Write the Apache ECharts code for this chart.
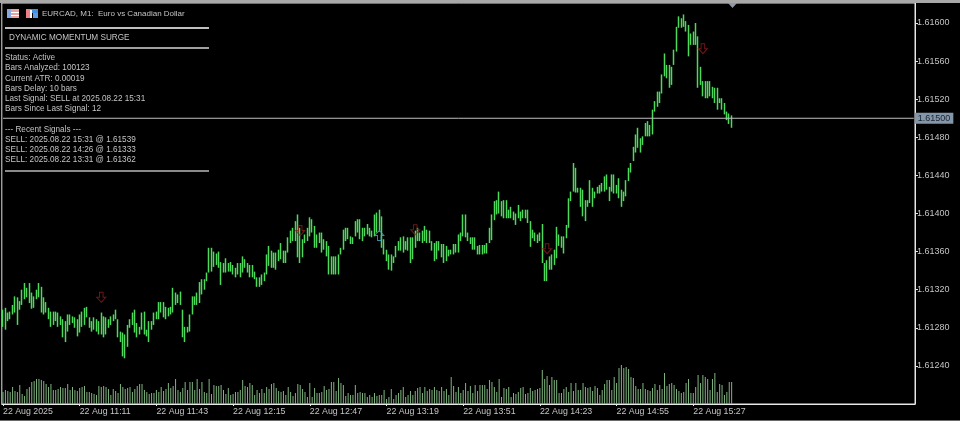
<!DOCTYPE html>
<html>
<head>
<meta charset="utf-8">
<title>EURCAD, M1</title>
<script src="https://cdn.jsdelivr.net/npm/echarts@6/dist/echarts.min.js"></script>
<style>
html, body { margin: 0; padding: 0; background: #000; }
#chart { width: 960px; height: 421px; }
</style>
</head>
<body>
<div id="chart"></div>
<script>
// one minute bars
var opens = [
1.61285,1.61290,1.61287,1.61292,1.61295,1.61300,1.61305,1.61301,1.61304,1.61315,
1.61320,1.61316,1.61317,1.61305,1.61310,1.61316,1.61322,1.61305,1.61300,1.61301,
1.61295,1.61288,1.61292,1.61291,1.61288,1.61287,1.61277,1.61285,1.61290,1.61288,
1.61289,1.61285,1.61280,1.61290,1.61295,1.61298,1.61291,1.61285,1.61282,1.61285,
1.61280,1.61280,1.61287,1.61278,1.61284,1.61285,1.61288,1.61291,1.61289,1.61276,
1.61270,1.61258,1.61270,1.61280,1.61285,1.61292,1.61282,1.61277,1.61278,1.61290,
1.61278,1.61275,1.61282,1.61283,1.61292,1.61295,1.61303,1.61300,1.61300,1.61294,
1.61298,1.61298,1.61312,1.61310,1.61310,1.61299,1.61278,1.61275,1.61278,1.61294,
1.61305,1.61308,1.61310,1.61322,1.61325,1.61329,1.61338,1.61355,1.61352,1.61350,
1.61352,1.61348,1.61342,1.61342,1.61345,1.61344,1.61343,1.61340,1.61338,1.61343,
1.61338,1.61348,1.61346,1.61342,1.61338,1.61338,1.61333,1.61328,1.61329,1.61332,
1.61336,1.61348,1.61352,1.61350,1.61348,1.61352,1.61355,1.61358,1.61353,1.61359,
1.61369,1.61376,1.61380,1.61382,1.61370,1.61360,1.61369,1.61373,1.61380,1.61386,
1.61386,1.61372,1.61370,1.61375,1.61368,1.61366,1.61362,1.61345,1.61342,1.61345,
1.61350,1.61357,1.61362,1.61375,1.61378,1.61376,1.61372,1.61376,1.61385,1.61388,
1.61380,1.61378,1.61382,1.61384,1.61380,1.61378,1.61392,1.61392,1.61395,1.61370,
1.61362,1.61355,1.61348,1.61352,1.61354,1.61361,1.61366,1.61368,1.61368,1.61366,
1.61368,1.61360,1.61365,1.61372,1.61378,1.61376,1.61378,1.61380,1.61376,1.61371,
1.61366,1.61358,1.61365,1.61366,1.61360,1.61356,1.61360,1.61358,1.61360,1.61364,
1.61365,1.61373,1.61376,1.61390,1.61380,1.61375,1.61372,1.61368,1.61366,1.61360,
1.61362,1.61362,1.61365,1.61369,1.61380,1.61393,1.61405,1.61405,1.61410,1.61403,
1.61405,1.61400,1.61400,1.61400,1.61398,1.61395,1.61402,1.61397,1.61400,1.61400,
1.61392,1.61378,1.61378,1.61375,1.61373,1.61375,1.61348,1.61336,1.61345,1.61350,
1.61352,1.61358,1.61370,1.61372,1.61370,1.61374,1.61385,1.61413,1.61423,1.61440,
1.61426,1.61424,1.61415,1.61410,1.61410,1.61411,1.61425,1.61420,1.61421,1.61425,
1.61426,1.61428,1.61434,1.61428,1.61423,1.61435,1.61430,1.61426,1.61425,1.61413,
1.61420,1.61434,1.61445,1.61455,1.61465,1.61475,1.61478,1.61472,1.61481,1.61490,
1.61485,1.61490,1.61507,1.61515,1.61525,1.61526,1.61544,1.61555,1.61548,1.61540,
1.61556,1.61570,1.61595,1.61602,1.61600,1.61602,1.61595,1.61577,1.61585,1.61586,
1.61580,1.61538,1.61538,1.61530,1.61528,1.61530,1.61528,1.61525,1.61522,1.61516,
1.61518,1.61512,1.61506,1.61502,1.61497
];
var highs = [
1.61299,1.61301,1.61296,1.61297,1.61304,1.61313,1.61312,1.61308,1.61320,1.61327,
1.61322,1.61327,1.61317,1.61313,1.61320,1.61327,1.61323,1.61312,1.61307,1.61301,
1.61297,1.61297,1.61297,1.61296,1.61292,1.61289,1.61287,1.61294,1.61294,1.61292,
1.61291,1.61289,1.61294,1.61297,1.61301,1.61302,1.61291,1.61287,1.61291,1.61289,
1.61287,1.61296,1.61292,1.61291,1.61289,1.61292,1.61294,1.61299,1.61289,1.61276,
1.61275,1.61273,1.61283,1.61289,1.61296,1.61299,1.61285,1.61281,1.61296,1.61297,
1.61278,1.61287,1.61287,1.61296,1.61297,1.61307,1.61307,1.61307,1.61302,1.61301,
1.61302,1.61322,1.61317,1.61315,1.61318,1.61299,1.61281,1.61281,1.61294,1.61313,
1.61313,1.61317,1.61328,1.61331,1.61331,1.61338,1.61364,1.61364,1.61360,1.61358,
1.61360,1.61349,1.61348,1.61353,1.61348,1.61349,1.61346,1.61343,1.61348,1.61348,
1.61355,1.61352,1.61348,1.61346,1.61346,1.61339,1.61333,1.61333,1.61336,1.61338,
1.61357,1.61366,1.61361,1.61359,1.61359,1.61362,1.61369,1.61361,1.61361,1.61375,
1.61382,1.61385,1.61392,1.61399,1.61385,1.61373,1.61378,1.61385,1.61396,1.61394,
1.61387,1.61378,1.61380,1.61380,1.61373,1.61371,1.61366,1.61355,1.61355,1.61355,
1.61357,1.61364,1.61383,1.61385,1.61385,1.61376,1.61375,1.61392,1.61394,1.61394,
1.61385,1.61385,1.61389,1.61385,1.61382,1.61399,1.61401,1.61404,1.61397,1.61373,
1.61362,1.61357,1.61357,1.61355,1.61366,1.61371,1.61375,1.61376,1.61371,1.61375,
1.61375,1.61375,1.61382,1.61385,1.61380,1.61382,1.61387,1.61383,1.61382,1.61371,
1.61369,1.61371,1.61371,1.61368,1.61368,1.61366,1.61362,1.61362,1.61368,1.61368,
1.61378,1.61380,1.61399,1.61399,1.61380,1.61375,1.61375,1.61375,1.61366,1.61367,
1.61367,1.61367,1.61369,1.61385,1.61399,1.61413,1.61414,1.61423,1.61413,1.61414,
1.61414,1.61404,1.61407,1.61402,1.61400,1.61409,1.61402,1.61404,1.61404,1.61404,
1.61392,1.61383,1.61380,1.61378,1.61380,1.61389,1.61348,1.61351,1.61355,1.61357,
1.61362,1.61386,1.61378,1.61376,1.61376,1.61388,1.61416,1.61423,1.61453,1.61448,
1.61427,1.61427,1.61425,1.61414,1.61414,1.61435,1.61427,1.61423,1.61428,1.61430,
1.61432,1.61439,1.61441,1.61428,1.61441,1.61441,1.61430,1.61437,1.61425,1.61423,
1.61435,1.61448,1.61453,1.61470,1.61483,1.61490,1.61479,1.61481,1.61495,1.61497,
1.61493,1.61509,1.61518,1.61528,1.61528,1.61546,1.61568,1.61556,1.61556,1.61554,
1.61572,1.61596,1.61607,1.61605,1.61609,1.61602,1.61598,1.61589,1.61591,1.61600,
1.61586,1.61554,1.61539,1.61539,1.61539,1.61539,1.61533,1.61532,1.61532,1.61521,
1.61521,1.61516,1.61507,1.61505,1.61503
];
var lows = [
1.61281,1.61278,1.61287,1.61289,1.61294,1.61296,1.61283,1.61299,1.61304,1.61310,
1.61312,1.61306,1.61300,1.61301,1.61310,1.61312,1.61296,1.61294,1.61296,1.61289,
1.61281,1.61283,1.61287,1.61281,1.61283,1.61270,1.61265,1.61276,1.61283,1.61285,
1.61280,1.61271,1.61275,1.61281,1.61283,1.61291,1.61280,1.61276,1.61278,1.61276,
1.61273,1.61273,1.61270,1.61273,1.61280,1.61283,1.61287,1.61289,1.61270,1.61265,
1.61250,1.61248,1.61260,1.61280,1.61283,1.61275,1.61270,1.61273,1.61278,1.61273,
1.61271,1.61265,1.61278,1.61283,1.61289,1.61289,1.61296,1.61291,1.61289,1.61292,
1.61294,1.61296,1.61304,1.61306,1.61304,1.61270,1.61265,1.61275,1.61276,1.61294,
1.61304,1.61304,1.61306,1.61315,1.61320,1.61329,1.61338,1.61339,1.61344,1.61346,
1.61343,1.61325,1.61338,1.61338,1.61339,1.61339,1.61336,1.61333,1.61336,1.61333,
1.61338,1.61343,1.61338,1.61333,1.61333,1.61331,1.61323,1.61323,1.61325,1.61329,
1.61336,1.61345,1.61343,1.61343,1.61341,1.61350,1.61352,1.61348,1.61348,1.61359,
1.61369,1.61371,1.61371,1.61354,1.61348,1.61354,1.61369,1.61371,1.61376,1.61380,
1.61364,1.61364,1.61369,1.61359,1.61362,1.61355,1.61336,1.61336,1.61336,1.61336,
1.61336,1.61357,1.61362,1.61371,1.61373,1.61368,1.61368,1.61376,1.61380,1.61373,
1.61371,1.61376,1.61378,1.61376,1.61375,1.61376,1.61380,1.61382,1.61364,1.61357,
1.61350,1.61341,1.61340,1.61348,1.61354,1.61361,1.61361,1.61359,1.61362,1.61361,
1.61348,1.61352,1.61364,1.61371,1.61371,1.61369,1.61371,1.61369,1.61369,1.61361,
1.61350,1.61352,1.61361,1.61354,1.61348,1.61350,1.61355,1.61357,1.61357,1.61359,
1.61359,1.61371,1.61376,1.61375,1.61371,1.61368,1.61362,1.61362,1.61357,1.61357,
1.61357,1.61358,1.61358,1.61369,1.61372,1.61393,1.61399,1.61400,1.61397,1.61395,
1.61395,1.61395,1.61395,1.61393,1.61388,1.61395,1.61392,1.61395,1.61395,1.61390,
1.61365,1.61374,1.61371,1.61369,1.61371,1.61348,1.61329,1.61329,1.61341,1.61341,
1.61346,1.61353,1.61366,1.61364,1.61358,1.61374,1.61385,1.61413,1.61423,1.61422,
1.61422,1.61407,1.61397,1.61392,1.61407,1.61411,1.61407,1.61416,1.61421,1.61421,
1.61423,1.61423,1.61425,1.61413,1.61423,1.61421,1.61421,1.61416,1.61407,1.61413,
1.61418,1.61434,1.61443,1.61455,1.61464,1.61469,1.61464,1.61472,1.61481,1.61481,
1.61481,1.61483,1.61507,1.61512,1.61516,1.61526,1.61544,1.61542,1.61532,1.61535,
1.61556,1.61570,1.61595,1.61595,1.61596,1.61591,1.61565,1.61577,1.61577,1.61577,
1.61532,1.61535,1.61523,1.61521,1.61521,1.61523,1.61521,1.61516,1.61509,1.61516,
1.61509,1.61504,1.61498,1.61494,1.61490
];
var closes = [
1.61290,1.61285,1.61292,1.61295,1.61300,1.61305,1.61301,1.61303,1.61315,1.61320,
1.61316,1.61320,1.61305,1.61308,1.61316,1.61322,1.61305,1.61300,1.61302,1.61295,
1.61288,1.61292,1.61291,1.61288,1.61287,1.61277,1.61285,1.61290,1.61288,1.61289,
1.61285,1.61280,1.61290,1.61295,1.61298,1.61296,1.61285,1.61282,1.61285,1.61280,
1.61280,1.61287,1.61278,1.61284,1.61285,1.61288,1.61291,1.61295,1.61278,1.61270,
1.61258,1.61270,1.61278,1.61285,1.61292,1.61282,1.61277,1.61278,1.61290,1.61280,
1.61275,1.61282,1.61283,1.61292,1.61295,1.61303,1.61300,1.61300,1.61294,1.61298,
1.61298,1.61312,1.61310,1.61310,1.61310,1.61278,1.61272,1.61278,1.61290,1.61305,
1.61308,1.61310,1.61322,1.61325,1.61326,1.61335,1.61355,1.61352,1.61350,1.61352,
1.61348,1.61342,1.61342,1.61345,1.61344,1.61343,1.61340,1.61338,1.61343,1.61338,
1.61348,1.61346,1.61342,1.61338,1.61338,1.61335,1.61328,1.61329,1.61332,1.61335,
1.61348,1.61352,1.61350,1.61348,1.61352,1.61355,1.61358,1.61353,1.61356,1.61368,
1.61376,1.61380,1.61382,1.61370,1.61360,1.61362,1.61373,1.61380,1.61386,1.61386,
1.61372,1.61370,1.61375,1.61368,1.61366,1.61362,1.61345,1.61342,1.61345,1.61350,
1.61350,1.61360,1.61375,1.61378,1.61378,1.61372,1.61372,1.61385,1.61388,1.61380,
1.61378,1.61382,1.61384,1.61380,1.61378,1.61392,1.61392,1.61395,1.61370,1.61362,
1.61355,1.61348,1.61352,1.61351,1.61360,1.61366,1.61368,1.61368,1.61366,1.61368,
1.61360,1.61365,1.61372,1.61378,1.61376,1.61378,1.61380,1.61376,1.61374,1.61366,
1.61358,1.61365,1.61366,1.61360,1.61356,1.61360,1.61358,1.61360,1.61364,1.61365,
1.61373,1.61376,1.61390,1.61380,1.61375,1.61372,1.61368,1.61366,1.61360,1.61362,
1.61362,1.61365,1.61364,1.61380,1.61392,1.61405,1.61405,1.61410,1.61403,1.61405,
1.61400,1.61400,1.61400,1.61398,1.61395,1.61402,1.61397,1.61400,1.61400,1.61395,
1.61378,1.61378,1.61375,1.61373,1.61375,1.61352,1.61336,1.61345,1.61350,1.61352,
1.61358,1.61370,1.61372,1.61370,1.61372,1.61384,1.61410,1.61420,1.61440,1.61426,
1.61424,1.61415,1.61410,1.61410,1.61411,1.61425,1.61420,1.61420,1.61425,1.61426,
1.61428,1.61434,1.61430,1.61420,1.61435,1.61430,1.61426,1.61425,1.61412,1.61420,
1.61430,1.61445,1.61450,1.61465,1.61475,1.61478,1.61470,1.61478,1.61490,1.61485,
1.61490,1.61505,1.61515,1.61525,1.61522,1.61540,1.61555,1.61548,1.61540,1.61550,
1.61570,1.61592,1.61602,1.61600,1.61603,1.61595,1.61575,1.61585,1.61586,1.61580,
1.61538,1.61538,1.61530,1.61528,1.61530,1.61528,1.61525,1.61522,1.61515,1.61518,
1.61512,1.61506,1.61502,1.61497,1.61500
];
var volumes = [
12,14,13,12,17,13,12,19,10,8,
15,17,22,23,25,25,24,23,20,17,
20,14,14,15,17,16,16,20,14,17,
14,13,16,17,18,12,12,11,10,9,
18,17,18,17,15,9,15,13,11,20,
17,15,16,17,12,15,18,20,20,14,
12,10,11,11,14,12,17,13,15,21,
16,18,25,14,12,16,22,14,22,22,
14,25,15,22,12,11,25,10,19,18,
18,19,14,10,16,9,10,12,12,
14,24,18,17,21,19,9,14,11,15,
11,17,15,20,21,16,13,12,13,9,
17,12,8,11,20,19,15,12,7,21,
7,16,11,11,12,18,14,15,22,22,
13,26,21,19,8,11,9,9,19,11,
12,11,11,7,9,7,11,8,9,9,
14,5,7,15,5,9,11,14,17,7,
9,13,9,13,16,17,11,17,13,15,
14,17,14,13,17,13,15,9,27,18,
12,17,11,14,21,13,18,11,19,13,
19,19,19,15,24,22,17,12,25,7,
16,15,17,7,11,10,12,16,17,10,
11,16,13,14,15,16,34,25,28,19,
27,24,24,11,11,15,17,12,21,13,
21,14,14,21,17,16,17,13,18,16,
9,14,20,
24,24,14,27,21,36,39,36,37,35,
27,26,18,15,15,21,15,14,13,16,
20,14,19,15,31,18,20,21,19,15,
13,11,12,21,25,11,11,17,29,21,
29,27,25,14,25,31,12,20,19,9,
12,22,22
];

var xTickLabels = ['22 Aug 2025', '22 Aug 11:11', '22 Aug 11:43', '22 Aug 12:15', '22 Aug 12:47', '22 Aug 13:19', '22 Aug 13:51', '22 Aug 14:23', '22 Aug 14:55', '22 Aug 15:27'];
var currentPrice = 1.615;

// signal arrows: [bar index, price]
var sellSignals = [[41, 1.61312], [124, 1.61382], [172, 1.61383], [227, 1.61363], [292, 1.61573]];
var buySignals = [[157, 1.61377]];

var panelTitle = 'DYNAMIC MOMENTUM SURGE';
var chartTitle = 'EURCAD, M1:  Euro vs Canadian Dollar';
var panelLines = [
	'Status: Active',
	'Bars Analyzed: 100123',
	'Current ATR: 0.00019',
	'Bars Delay: 10 bars',
	'Last Signal: SELL at 2025.08.22 15:31',
	'Bars Since Last Signal: 12'
];
var recentLines = [
	'--- Recent Signals ---',
	'SELL: 2025.08.22 15:31 @ 1.61539',
	'SELL: 2025.08.22 14:26 @ 1.61333',
	'SELL: 2025.08.22 13:31 @ 1.61362'
];

// chart has room for 381 one minute bars, only 305 are filled
var categories = [];
for (var i = 0; i < 381; i++) {
	categories.push(String(i));
}

var candleData = [];
for (var i = 0; i < closes.length; i++) {
	candleData.push([opens[i], closes[i], lows[i], highs[i]]);
}

var textFont = '"Liberation Sans", sans-serif';
var graphics = [];

function addText(str, x, y, size) {
	graphics.push({
		type: 'text', left: x, top: y - 4, z: 20,
		style: { text: str, fill: '#c4c4c4', font: size + 'px ' + textFont }
	});
}
function addRect(x, y, w, h, color) {
	graphics.push({
		type: 'rect', z: 19, silent: true,
		shape: { x: x, y: y, width: w, height: h },
		style: { fill: color }
	});
}

// window edges
addRect(0, 0, 960, 3, '#a8a8a8');
addRect(0, 420, 960, 1, '#6a6a6a');

// symbol icons
addRect(7, 9, 12, 9, '#e8a0a0');
addRect(7, 12, 12, 1, '#ffffff');
addRect(7, 15, 12, 1, '#ffffff');
addRect(7, 9, 4, 9, '#8aa8e0');
addRect(26, 9, 5, 9, '#f08080');
addRect(31, 9, 7, 4, '#4a90d8');
addRect(33, 13, 5, 5, '#5aa0e0');
addRect(30, 10, 2, 8, '#ffffff');

addText(chartTitle, 42, 14, 8);
addRect(5, 27, 204, 2, '#c0c0c0');
addText(panelTitle, 9, 38, 8.2);
addRect(5, 47, 204, 2, '#a0a0a0');
for (var i = 0; i < panelLines.length; i++) {
	addText(panelLines[i], 5, 58 + i * 10.2, 8.2);
}
for (var i = 0; i < recentLines.length; i++) {
	addText(recentLines[i], 5, 130 + i * 10, 8.2);
}
addRect(5, 170, 204, 2, '#8a8a8a');

// last bar marker on top edge
graphics.push({
	type: 'polygon', z: 20, silent: true,
	shape: { points: [[728, 3], [737, 3], [732.5, 8]] },
	style: { fill: '#8f99a6' }
});

var downArrow = 'path://M3,0 L7,0 L7,5 L10,5 L5,10 L0,5 L3,5 Z';
var upArrow = 'path://M5,0 L10,5 L7,5 L7,10 L3,10 L3,5 L0,5 Z';

var option = {
	backgroundColor: '#000',
	animation: false,
	graphic: graphics,
	grid: {
		left: 1, top: 3, width: 914, height: 401,
		show: true, borderColor: '#e0e0e0', borderWidth: 1, backgroundColor: '#000'
	},
	xAxis: {
		type: 'category',
		data: categories,
		boundaryGap: true,
		axisLine: { show: true, lineStyle: { color: '#e8e8e8', width: 1 } },
		axisTick: {
			show: true, alignWithLabel: true, length: 2,
			interval: function (index) { return index % 32 == 0 && index < 300; },
			lineStyle: { color: '#e8e8e8' }
		},
		axisLabel: {
			show: true, color: '#c4c4c4', fontFamily: textFont, fontSize: 8.8,
			align: 'left', margin: 3,
			interval: function (index) { return index % 32 == 0 && index < 300; },
			formatter: function (value, index) { return xTickLabels[index / 32] || ''; }
		},
		splitLine: { show: false }
	},
	yAxis: [{
		type: 'value',
		position: 'right',
		min: 1.612,
		max: 1.61621,
		interval: 0.0004,
		axisLine: { show: true, lineStyle: { color: '#e8e8e8', width: 1 } },
		axisTick: { show: true, length: 3, lineStyle: { color: '#e8e8e8' } },
		axisLabel: {
			show: true, color: '#c4c4c4', fontFamily: textFont, fontSize: 9, margin: 2,
			showMinLabel: false, showMaxLabel: false,
			formatter: function (v) { return v.toFixed(5); }
		},
		splitLine: { show: false }
	}, {
		// tick volume, kept at the foot of the window
		type: 'value',
		min: 0,
		max: 401,
		show: false,
		splitLine: { show: false }
	}],
	series: [{
		type: 'bar',
		yAxisIndex: 1,
		data: volumes,
		barWidth: 1,
		itemStyle: { color: '#7fb57f' },
		silent: true
	}, {
		// current price line across the whole chart
		type: 'line',
		data: [[0, currentPrice], [380, currentPrice]],
		showSymbol: false,
		silent: true,
		z: 3,
		lineStyle: { color: '#c0c0c0', width: 1 },
		endLabel: {
			show: true, distance: 1,
			formatter: currentPrice.toFixed(5),
			color: '#1c2430', backgroundColor: '#8496aa',
			fontFamily: textFont, fontSize: 9, padding: [1, 3, 1, 3]
		}
	}, {
		type: 'candlestick',
		data: candleData,
		barWidth: 1,
		itemStyle: {
			color: '#55e065', color0: '#55e065',
			borderColor: '#4cd95c', borderColor0: '#4cd95c', borderWidth: 1.5
		},
		silent: true
	}, {
		type: 'scatter',
		data: sellSignals,
		symbol: downArrow,
		symbolSize: [9, 10],
		z: 5,
		silent: true,
		itemStyle: { color: 'transparent', borderColor: '#8f1c1c', borderWidth: 1 }
	}, {
		type: 'scatter',
		data: buySignals,
		symbol: upArrow,
		symbolSize: [9, 10],
		z: 5,
		silent: true,
		itemStyle: { color: 'transparent', borderColor: '#40b0d0', borderWidth: 1 }
	}]
};

var myChart = echarts.init(document.getElementById('chart'));
myChart.setOption(option);
</script>
</body>
</html>
